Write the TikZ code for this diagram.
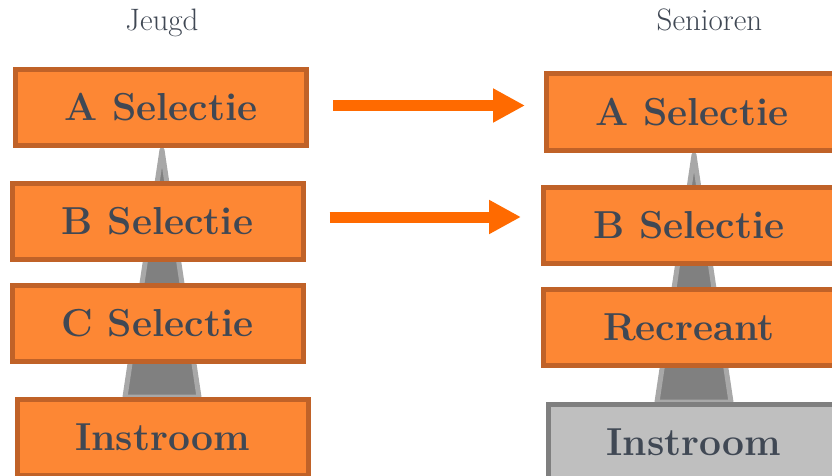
\documentclass[tikz,border=0pt]{standalone}
\usetikzlibrary{arrows.meta}
\definecolor{txt}{RGB}{64,72,84}
\definecolor{ofill}{RGB}{253,135,52}
\definecolor{oline}{RGB}{192,98,40}
\definecolor{arr}{RGB}{255,106,0}
\definecolor{tdark}{RGB}{128,128,128}
\definecolor{tlight}{RGB}{168,168,168}
\definecolor{gfill}{RGB}{191,191,191}
\definecolor{gline}{RGB}{127,127,127}
\tikzset{
  lvlbox/.style={draw=oline, fill=ofill, line width=5pt, minimum width=291pt,
    minimum height=76pt, inner sep=0pt, outer sep=0pt, text=txt,
    font=\fontsize{39}{42}\selectfont\bfseries},
  graybox/.style={lvlbox, draw=gline, fill=gfill},
  header/.style={text=txt, font=\fontsize{31}{34}\selectfont, anchor=base},
  tower/.style={draw=tlight, fill=tdark, line width=5pt, line join=round},
  bigarrow/.style={draw=arr, line width=11pt, -{Triangle[length=32pt,width=32pt]}}
}
\begin{document}
\begin{tikzpicture}[x=1pt,y=-1pt]
\useasboundingbox (0,0) rectangle (832,476);
\clip (0,0) rectangle (832,476);
% towers
\draw[tower] (125,397) -- (162,150) -- (199,397) -- cycle;
\draw[tower] (657,402) -- (694,155) -- (731,402) -- cycle;
% headers
\node[header] (hj) at (162,31) {Jeugd};
\node[header] (hs) at (709.5,31) {Senioren};
% left column
\node[lvlbox] (jA) at (161,107.5) {A Selectie};
\node[lvlbox] (jB) at (157.5,221.5) {B Selectie};
\node[lvlbox] (jC) at (157.5,323.5) {C Selectie};
\node[lvlbox] (jI) at (162.5,437.5) {Instroom};
% right column
\node[lvlbox] (sA) at (692,112) {A Selectie};
\node[lvlbox] (sB) at (689,225) {B Selectie};
\node[lvlbox] (sR) at (689,327.5) {Recreant};
\node[graybox] (sI) at (694,442.5) {Instroom};
% arrows
\draw[bigarrow] ([xshift=26.5pt,yshift=2pt]jA.east) -- ([xshift=-21.5pt,yshift=6.5pt]sA.west);
\draw[bigarrow] ([xshift=26.5pt,yshift=4.5pt]jB.east) -- ([xshift=-22.5pt,yshift=8pt]sB.west);
\end{tikzpicture}
\end{document}
